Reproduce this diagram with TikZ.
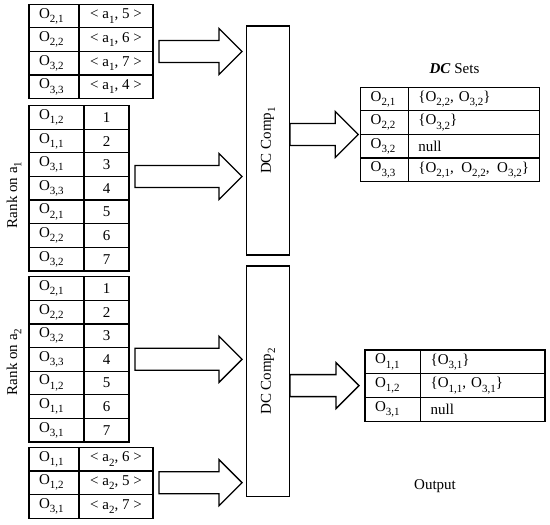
\documentclass[tikz,border=0pt]{standalone}
\usepackage{fontspec}
\setmainfont{Liberation Serif}
\usetikzlibrary{positioning,calc}

\newcommand{\sub}[1]{\raisebox{-0.28em}{\fontsize{11bp}{12bp}\selectfont #1}}
\newcommand{\ob}[1]{O\sub{#1}}
% hollow block arrow from tail point #1 to tip point #2
\newcommand{\bigarrow}[2]{%
  \draw[blockarrow] ($(#1)+(0,-11)$) -- ($(#2)+(-23,-11)$) -- ($(#2)+(-23,-23)$)
    -- (#2) -- ($(#2)+(-23,23)$) -- ($(#2)+(-23,11)$) -- ($(#1)+(0,11)$) -- cycle;}

\tikzset{
  cell/.style={draw, line width=1.2bp, minimum height=23.6bp, inner ysep=0pt, outer sep=0pt},
  lcell/.style={cell, inner xsep=10bp, text width=#1, align=left},
  ccell/.style={cell, inner xsep=0pt, minimum width=#1},
  compbox/.style={draw, line width=1.3bp, minimum width=42.6bp, inner sep=0pt},
  blockarrow/.style={line width=1.3bp, line join=miter}
}

\begin{document}
\begin{tikzpicture}[x=1bp, y=-1bp, font=\fontsize{15bp}{18bp}\selectfont]
    \useasboundingbox (0,0) rectangle (550,525);

    % Attribute values on a1
    \foreach \o/\v [count=\i] in {{2,1}/5, {2,2}/6, {3,2}/7, {3,3}/4} {
        \node[lcell=30bp, anchor=north west] (t1a-\i) at (29, {4.3+23.6*(\i-1)}) {\ob{\o}};
        \node[ccell=74bp, right=0pt of t1a-\i] (t1b-\i) {< a\sub{1}, \v\ >};
    }

    % Rank on a1
    \foreach \o/\v [count=\i] in {{1,2}/1, {1,1}/2, {3,1}/3, {3,3}/4, {2,1}/5, {2,2}/6, {3,2}/7} {
        \node[lcell=35bp, anchor=north west] (t2a-\i) at (29, {105.7+23.6*(\i-1)}) {\ob{\o}};
        \node[ccell=45bp, right=0pt of t2a-\i] (t2b-\i) {\v};
    }
    \node[rotate=90] (rank1) at (14,195) {Rank on a\sub{1}};

    % Rank on a2
    \foreach \o/\v [count=\i] in {{2,1}/1, {2,2}/2, {3,2}/3, {3,3}/4, {1,2}/5, {1,1}/6, {3,1}/7} {
        \node[lcell=35bp, anchor=north west] (t3a-\i) at (29, {276.7+23.6*(\i-1)}) {\ob{\o}};
        \node[ccell=45bp, right=0pt of t3a-\i] (t3b-\i) {\v};
    }
    \node[rotate=90] (rank2) at (14,362) {Rank on a\sub{2}};

    % Attribute values on a2
    \foreach \o/\v [count=\i] in {{1,1}/6, {1,2}/5, {3,1}/7} {
        \node[lcell=30bp, anchor=north west] (t4a-\i) at (29, {447.3+23.6*(\i-1)}) {\ob{\o}};
        \node[ccell=74bp, right=0pt of t4a-\i] (t4b-\i) {< a\sub{2}, \v\ >};
    }

    % Comparison blocks
    \node[compbox, minimum height=229bp] (comp1) at (268,140.5) {\rotatebox{90}{DC Comp\sub{1}}};
    \node[compbox, minimum height=230.7bp] (comp2) at (268,381.4) {\rotatebox{90}{DC Comp\sub{2}}};

    % DC sets
    \node (dctitle) at (454.5,68.3) {\textbf{\textit{DC}} Sets};
    \foreach \o/\v [count=\i] in {{2,1}/{\{\ob{2,2}, \ob{3,2}\}}, {2,2}/{\{\ob{3,2}\}}, {3,2}/null,
                                  {3,3}/{\{\ob{2,1},\ \,\ob{2,2},\ \,\ob{3,2}\}}} {
        \node[lcell=27.6bp, anchor=north west] (dca-\i) at (360.7, {87.3+23.6*(\i-1)}) {\ob{\o}};
        \node[lcell=111bp, right=0pt of dca-\i] (dcb-\i) {\mbox{\v}};
    }

    % Output
    \foreach \o/\v [count=\i] in {{1,1}/{\{\ob{3,1}\}}, {1,2}/{\{\ob{1,1}, \ob{3,1}\}}, {3,1}/null} {
        \node[lcell=35.7bp, anchor=north west] (outa-\i) at (365, {350+23.8*(\i-1)}) {\ob{\o}};
        \node[lcell=104.3bp, right=0pt of outa-\i] (outb-\i) {\mbox{\v}};
    }
    \node (outlabel) at (435,486) {Output};

    % Block arrows
    \coordinate (a1s) at ($(t1b-2.south east)+(6,0)$);
    \coordinate (a1e) at ($(comp1.west |- a1s)+(-4,0)$);
    \coordinate (a2s) at ($(t2b-3.south east)+(6,0)$);
    \coordinate (a2e) at ($(comp1.west |- a2s)+(-4,0)$);
    \coordinate (a3s) at ($(t3b-4.east)+(6,0)$);
    \coordinate (a3e) at ($(comp2.west |- a3s)+(-4,0)$);
    \coordinate (a4s) at ($(t4b-2.east)+(6,0)$);
    \coordinate (a4e) at ($(comp2.west |- a4s)+(-4,0)$);
    \coordinate (a5s) at (comp1.east |- dca-2.south west);
    \coordinate (a5e) at ($(dca-2.south west)+(-2.5,0)$);
    \coordinate (a6s) at (comp2.east |- outa-2.west);
    \coordinate (a6e) at ($(outa-2.west)+(-6,0)$);
    \bigarrow{a1s}{a1e}
    \bigarrow{a2s}{a2e}
    \bigarrow{a3s}{a3e}
    \bigarrow{a4s}{a4e}
    \bigarrow{a5s}{a5e}
    \bigarrow{a6s}{a6e}
\end{tikzpicture}
\end{document}
